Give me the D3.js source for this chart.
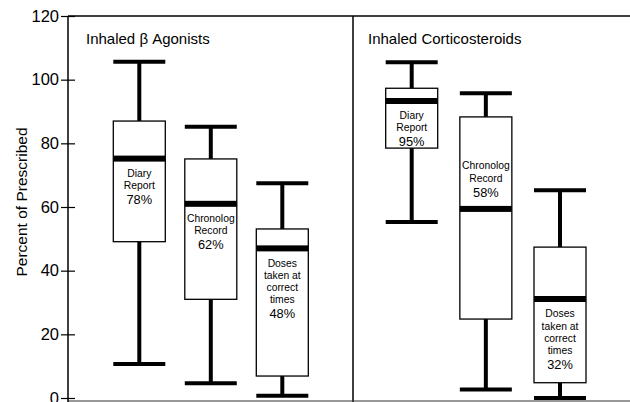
<!DOCTYPE html>
<html>
<head>
<meta charset="utf-8">
<script src="https://cdn.jsdelivr.net/npm/d3@7"></script>
<style>
  html, body { margin: 0; padding: 0; background: #fff; }
  svg { display: block; font-family: "Liberation Sans", Arial, sans-serif; }
</style>
</head>
<body>
<svg id="chart" width="630" height="402"></svg>
<script>
// ---- data ----
const panels = ["Inhaled β Agonists", "Inhaled Corticosteroids"];
const categories = ["Diary Report", "Chronolog Record", "Doses taken at correct times"];
const categoryLines = [["Diary", "Report"], ["Chronolog", "Record"], ["Doses", "taken at", "correct", "times"]];
const yTicks = [0, 20, 40, 60, 80, 100, 120];

const betaMin = [10.7, 4.6, 0.7];
const betaQ1 = [49.1, 31.0, 6.9];
const betaMedian = [75.2, 61.0, 47.0];
const betaQ3 = [87.0, 75.1, 53.1];
const betaMax = [105.6, 85.2, 67.5];
const betaPercent = [78, 62, 48];

const corticoMin = [55.3, 2.7, 0];
const corticoQ1 = [78.5, 24.8, 4.8];
const corticoMedian = [93.3, 59.4, 31.1];
const corticoQ3 = [97.3, 88.3, 47.4];
const corticoMax = [105.5, 95.7, 65.3];
const corticoPercent = [95, 58, 32];

// label placement relative to median band
const betaLabelPlace = ["below", "below", "below"];
const corticoLabelPlace = ["below", "above", "below"];

// ---- layout ----
const svg = d3.select("#chart");
const W = 630, H = 402;
const axisX = 68, divX = 353, topY = 16, bottomY = 401;
const boxW = 52;

const y = d3.scaleLinear().domain([0, 120]).range([398, 16]);

const panelRanges = [[139.3, 282.3], [411.7, 560]];
const panelTitleX = [86, 368];

const panelData = [
  { min: betaMin, q1: betaQ1, med: betaMedian, q3: betaQ3, max: betaMax, pct: betaPercent, place: betaLabelPlace },
  { min: corticoMin, q1: corticoQ1, med: corticoMedian, q3: corticoQ3, max: corticoMax, pct: corticoPercent, place: corticoLabelPlace }
];

// frame
svg.append("line").attr("x1", axisX).attr("x2", W).attr("y1", topY).attr("y2", topY)
  .attr("stroke", "#000").attr("stroke-width", 1.5);
svg.append("line").attr("x1", divX).attr("x2", divX).attr("y1", topY).attr("y2", H)
  .attr("stroke", "#000").attr("stroke-width", 1.5);
svg.append("line").attr("x1", axisX).attr("x2", W).attr("y1", bottomY).attr("y2", bottomY)
  .attr("stroke", "#333").attr("stroke-width", 1.2);

// y axis
const axisG = svg.append("g").attr("transform", `translate(${axisX},0)`)
  .call(d3.axisLeft(y).tickValues(yTicks).tickSize(7).tickPadding(2).tickFormat(d3.format("d")));
axisG.select(".domain").attr("stroke", "#000").attr("stroke-width", 1.5)
  .attr("d", `M0,${topY}V${H}`);
axisG.selectAll(".tick line").attr("x1", -7).attr("x2", 7).attr("stroke", "#000").attr("stroke-width", 1.2);
axisG.selectAll(".tick text").attr("font-size", 16.5).attr("fill", "#000")
  .attr("font-family", "Liberation Sans, Arial, sans-serif");

// y label
svg.append("text")
  .attr("transform", `translate(21,${202}) rotate(-90)`)
  .attr("text-anchor", "middle").attr("dominant-baseline", "central")
  .attr("font-size", 15.5).text("Percent of Prescribed");

// panels
panels.forEach((title, p) => {
  const x = d3.scalePoint().domain(categories).range(panelRanges[p]);
  const d = panelData[p];
  const g = svg.append("g");

  g.append("text").attr("x", panelTitleX[p]).attr("y", 44)
    .attr("font-size", 15).text(title);

  categories.forEach((c, i) => {
    const cx = x(c);
    const x0 = cx - boxW / 2;
    // whiskers
    g.append("line").attr("x1", cx).attr("x2", cx).attr("y1", y(d.max[i])).attr("y2", y(d.q3[i]))
      .attr("stroke", "#000").attr("stroke-width", 4);
    g.append("line").attr("x1", cx).attr("x2", cx).attr("y1", y(d.q1[i])).attr("y2", y(d.min[i]))
      .attr("stroke", "#000").attr("stroke-width", 4);
    // caps
    [d.max[i], d.min[i]].forEach(v => {
      g.append("line").attr("x1", x0).attr("x2", x0 + boxW).attr("y1", y(v)).attr("y2", y(v))
        .attr("stroke", "#000").attr("stroke-width", 4);
    });
    // box
    g.append("rect").attr("x", x0).attr("y", y(d.q3[i])).attr("width", boxW)
      .attr("height", y(d.q1[i]) - y(d.q3[i]))
      .attr("fill", "#fff").attr("stroke", "#000").attr("stroke-width", 1.3);
    // median band
    g.append("rect").attr("x", x0).attr("y", y(d.med[i]) - 3).attr("width", boxW).attr("height", 6)
      .attr("fill", "#000");

    // labels
    const lines = categoryLines[i];
    const wordStep = 12.3, pctGap = 14.5;
    const blockH = (lines.length - 1) * wordStep + pctGap;
    const medY = y(d.med[i]);
    const startY = d.place[i] === "below" ? medY + 14 : medY - 17 - blockH;
    lines.forEach((t, k) => {
      g.append("text")
        .attr("transform", `translate(${cx},${startY + k * wordStep}) scale(0.9,1)`)
        .attr("text-anchor", "middle").attr("dominant-baseline", "central")
        .attr("font-size", 11.5).text(t);
    });
    g.append("text")
      .attr("transform", `translate(${cx},${startY + (lines.length - 1) * wordStep + pctGap}) scale(0.95,1)`)
      .attr("text-anchor", "middle").attr("dominant-baseline", "central")
      .attr("font-size", 13.5).text(d.pct[i] + "%");
  });
});
</script>
</body>
</html>
